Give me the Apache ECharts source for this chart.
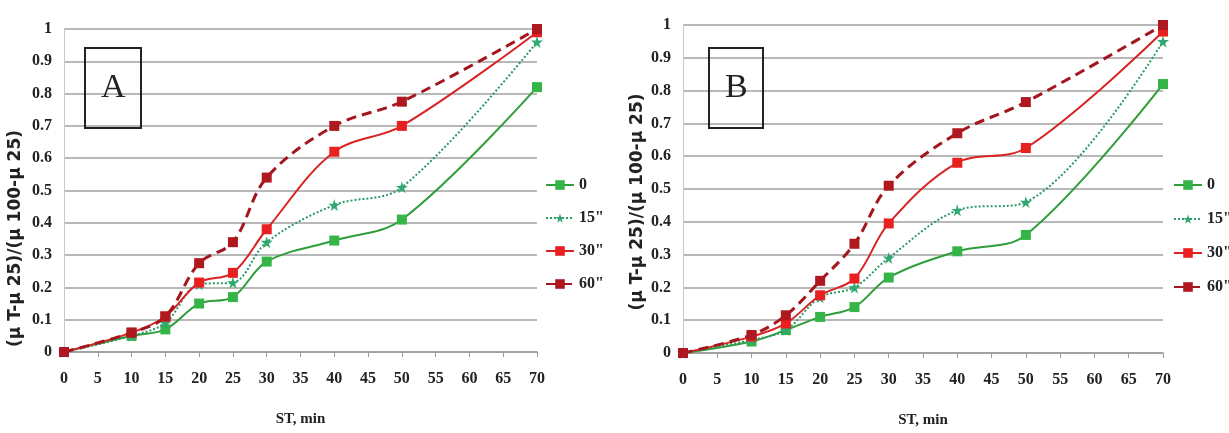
<!DOCTYPE html>
<html><head><meta charset="utf-8">
<script src="https://cdn.jsdelivr.net/npm/echarts@6/dist/echarts.min.js"></script>
<style>html,body{margin:0;padding:0;background:#fff}#c{width:1229px;height:433px}</style>
</head><body><div id="c"></div>
<script>
const xValues = [0, 10, 15, 20, 25, 30, 40, 50, 70];
const seriesNames = ['0', '15"', '30"', '60"'];
const yTicks = [0, 0.1, 0.2, 0.3, 0.4, 0.5, 0.6, 0.7, 0.8, 0.9, 1];
// Panel A
const a0  = [0, 0.05, 0.07, 0.15, 0.17, 0.28, 0.345, 0.41, 0.82];
const a15 = [0, 0.05, 0.09, 0.21, 0.215, 0.34, 0.455, 0.51, 0.96];
const a30 = [0, 0.06, 0.11, 0.215, 0.245, 0.38, 0.62, 0.70, 0.99];
const a60 = [0, 0.06, 0.11, 0.275, 0.34, 0.54, 0.70, 0.775, 1.0];
// Panel B
const b0  = [0, 0.035, 0.07, 0.11, 0.14, 0.23, 0.31, 0.36, 0.82];
const b15 = [0, 0.04, 0.07, 0.17, 0.20, 0.29, 0.435, 0.46, 0.95];
const b30 = [0, 0.05, 0.09, 0.176, 0.227, 0.395, 0.58, 0.625, 0.98];
const b60 = [0, 0.055, 0.115, 0.22, 0.333, 0.51, 0.67, 0.765, 1.0];

const star = 'path://M50,0 L61,35 L98,35 L68,57 L79,91 L50,70 L21,91 L32,57 L2,35 L39,35 Z';
const styles = [
  {color:'#2f9e3a', marker:'#35b548', type:'solid', symbol:'rect', size:10, width:2},
  {color:'#2a9a66', marker:'#30a870', type:'dotted', symbol:star, size:12, width:2},
  {color:'#d92424', marker:'#e82020', type:'solid', symbol:'rect', size:10, width:2},
  {color:'#a3161e', marker:'#b01820', type:[10,6], symbol:'rect', size:10, width:3}
];
const zip = arr => xValues.map((x,i)=>[x, arr[i]]);
const tickFont = {fontFamily:'Liberation Serif', fontWeight:'bold', fontSize:16, color:'#222'};

function makeSeries(sets, idx){
  return sets.map((d,k)=>({
    name: seriesNames[k], type:'line', xAxisIndex: idx, yAxisIndex: idx,
    data: zip(d), smooth: 0.35, symbol: styles[k].symbol, symbolSize: styles[k].size,
    lineStyle:{color:styles[k].color, width: styles[k].width, type:styles[k].type},
    itemStyle:{color:styles[k].marker}, z: 3 + k
  }));
}
function xAxis(idx){
  return {gridIndex: idx, type:'value', min:0, max:70, interval:5,
    name:'ST, min', nameLocation:'middle', nameGap:60,
    nameTextStyle:{fontFamily:'Liberation Serif', fontWeight:'bold', fontSize:15, color:'#222'},
    axisLine:{lineStyle:{color:'#9a9a9a', width:1.5}},
    axisTick:{show:true, length:5, lineStyle:{color:'#9a9a9a'}},
    axisLabel:{...tickFont, margin:19},
    splitLine:{show:false}};
}
function yAxis(idx, gap, shift){
  return {gridIndex: idx, type:'value', min:0, max:1, interval:0.1,
    name:'(μ T-μ 25)/(μ 100-μ 25)', nameLocation:'middle', nameGap:gap, nameRotate:90,
    nameTextStyle:{fontFamily:'DejaVu Sans', fontWeight:'bold', fontSize:17, color:'#222', padding:[0, shift, 0, 0]},
    axisLine:{show:true, lineStyle:{color:'#c8c8c8', width:1}},
    axisTick:{show:false},
    axisLabel:{...tickFont, margin:12, formatter: v => String(Math.round(v*10)/10)},
    splitLine:{lineStyle:{color:'#b8b8b8', width:2}}};
}
function legend(left, gap){
  return {orient:'vertical', left:left, top:172, itemWidth:28, itemHeight:12, itemGap:gap,
    data: seriesNames, textStyle:{fontFamily:'Liberation Serif', fontWeight:'bold', fontSize:16, color:'#222'}};
}
function boxTitle(t, left){
  return {text:t, left:left, top:48, borderColor:'#222', borderWidth:2, padding:[21,16,21,16],
    itemGap:0, textStyle:{fontFamily:'Liberation Serif', fontWeight:'normal', fontSize:34, color:'#222', lineHeight:38}};
}
const chart = echarts.init(document.getElementById('c'));
chart.setOption({
  backgroundColor:'#fff',
  animation:false,
  title:[boxTitle('A', 85), boxTitle('B', 709)],
  legend:[legend(540, 17), legend(1168, 18)],
  grid:[
    {left:64, top:29, width:473, height:323},
    {left:683, top:25, width:480, height:330}
  ],
  xAxis:[xAxis(0), xAxis(1)],
  yAxis:[yAxis(0, 40, 96), yAxis(1, 37, 26)],
  series:[...makeSeries([a0,a15,a30,a60],0), ...makeSeries([b0,b15,b30,b60],1)]
});
</script></body></html>
